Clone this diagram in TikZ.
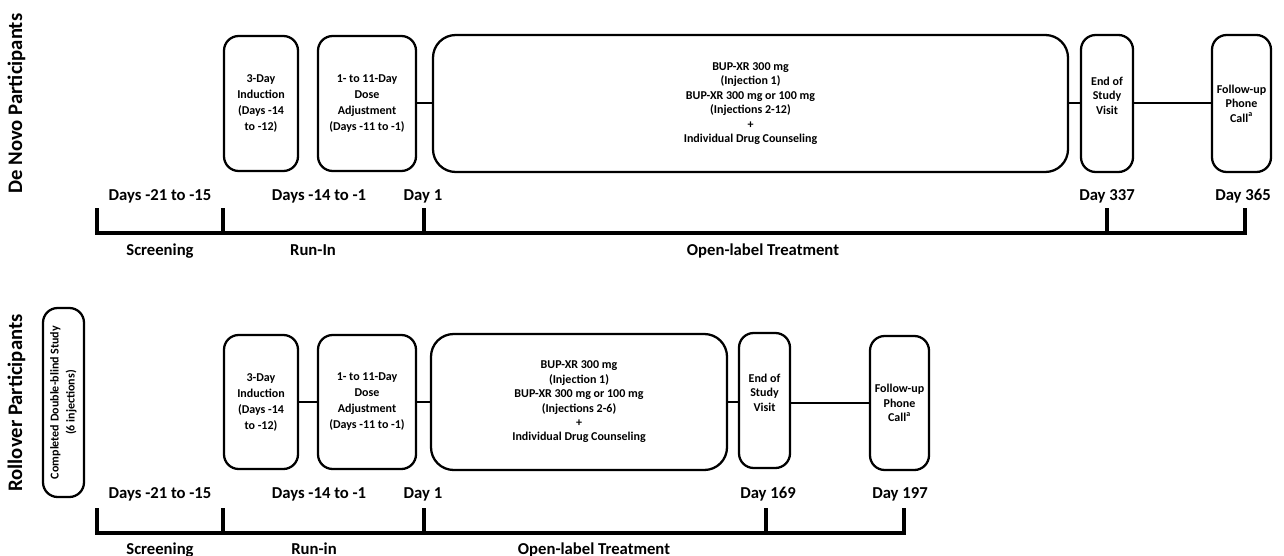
\documentclass[tikz,border=0pt]{standalone}
\usepackage{fontspec}
\setmainfont{Carlito}

\begin{document}
\begin{tikzpicture}[x=0.75pt,y=-0.75pt,
  stage/.style={draw, line width=1.7pt, rounded corners=11pt, align=center, inner sep=0pt,
    font=\bfseries\fontsize{9}{12}\selectfont},
  tight/.style={font=\bfseries\fontsize{9}{10.8}\selectfont},
  wide/.style={rounded corners=17pt},
  lifted/.style={tight, text depth=12pt},
  link/.style={line width=1.5pt},
  axis/.style={line width=2.6pt},
  daytext/.style={anchor=base, font=\bfseries\fontsize{12.5}{15}\selectfont},
  rowtitle/.style={rotate=90, font=\bfseries\fontsize{15.5}{18}\selectfont}]
\useasboundingbox (0,0) rectangle (1284,556);

\newcommand\stagebox[7][]{\node[stage,#1,minimum width={(#5-#3)*0.75pt},minimum height={(#6-#4)*0.75pt}] (#2) at ({(#3+#5)/2},{(#4+#6)/2}) {#7};}

% de novo participants
\node[rowtitle] (dntitle) at (16.5,103.5) {De Novo Participants};
\stagebox{dnind}{224}{36}{298}{171}{3-Day\\Induction\\(Days -14\\to -12)}
\stagebox{dndose}{318}{36}{416}{171}{1- to 11-Day\\Dose\\Adjustment\\(Days -11 to -1)}
\stagebox[tight,wide]{dntreat}{433}{35}{1068}{172}{BUP-XR 300 mg\\(Injection 1)\\BUP-XR 300 mg or 100 mg\\(Injections 2-12)\\+\\Individual Drug Counseling}
\stagebox[lifted]{dneos}{1081}{35}{1133}{172}{End of\\Study\\Visit}
\stagebox[tight]{dnfu}{1212}{35}{1271}{172}{Follow-up\\Phone\\Call\textsuperscript{a}}

\draw[link] (dndose.east) -- (dndose.east -| dntreat.west);
\draw[link] (dntreat.east) -- (dntreat.east -| dneos.west);
\draw[link] (dneos.east) -- (dneos.east -| dnfu.west);

% de novo timeline
\foreach \x/\n in {97/0,223/1,424/2,1107/3,1245/4}
  \coordinate (dn\n) at (\x,233);
\draw[axis] (dn0) ++(0,-25) -- (dn0) -- (dn4) -- ++(0,-25);
\foreach \n in {1,2,3}
  \draw[axis] (dn\n) -- ++(0,-25);

\node[daytext] (dnday0) at (160,200) {Days -21 to -15};
\node[daytext] (dnday1) at (319,200) {Days -14 to -1};
\node[daytext] (dnday2) at (423,200) {Day 1};
\node[daytext] (dnday3) at (1107,200) {Day 337};
\node[daytext] (dnday4) at (1243,200) {Day 365};

\node[daytext] (dnscreen) at (160,255) {Screening};
\node[daytext] (dnrunin) at (313,255) {Run-In};
\node[daytext] (dnopen) at (763,255) {Open-label Treatment};

% rollover participants
\node[rowtitle] (rotitle) at (16.5,403) {Rollover Participants};
\node[stage, rotate=90, minimum width={189*0.75pt}, minimum height={41*0.75pt}] (rodb) at (63.5,402.5)
  {Completed Double-blind Study\\(6 injections)};
\stagebox{roind}{224}{335}{298}{469}{3-Day\\Induction\\(Days -14\\to -12)}
\stagebox{rodose}{318}{335}{416}{469}{1- to 11-Day\\Dose\\Adjustment\\(Days -11 to -1)}
\stagebox[tight,wide]{rotreat}{431}{334}{727}{470}{BUP-XR 300 mg\\(Injection 1)\\BUP-XR 300 mg or 100 mg\\(Injections 2-6)\\+\\Individual Drug Counseling}
\stagebox[lifted]{roeos}{739}{333}{790}{468}{End of\\Study\\Visit}
\stagebox[tight]{rofu}{870}{336}{929}{470}{Follow-up\\Phone\\Call\textsuperscript{a}}

\draw[link] (roind.east) -- (roind.east -| rodose.west);
\draw[link] (rodose.east) -- (rodose.east -| rotreat.west);
\draw[link] (rotreat.east) -- (rotreat.east -| roeos.west);
\draw[link] (roeos.east |- rofu.west) -- (rofu.west);

% rollover timeline
\foreach \x/\n in {97/0,223/1,424/2,766/3,904/4}
  \coordinate (ro\n) at (\x,533);
\draw[axis] (ro0) ++(0,-25) -- (ro0) -- (ro4) -- ++(0,-25);
\foreach \n in {1,2,3}
  \draw[axis] (ro\n) -- ++(0,-25);

\node[daytext] (roday0) at (160,498) {Days -21 to -15};
\node[daytext] (roday1) at (319,498) {Days -14 to -1};
\node[daytext] (roday2) at (423,498) {Day 1};
\node[daytext] (roday3) at (768,498) {Day 169};
\node[daytext] (roday4) at (900,498) {Day 197};

\node[daytext] (roscreen) at (160,554) {Screening};
\node[daytext] (rorunin) at (314,554) {Run-in};
\node[daytext] (roopen) at (594,554) {Open-label Treatment};
\end{tikzpicture}
\end{document}
